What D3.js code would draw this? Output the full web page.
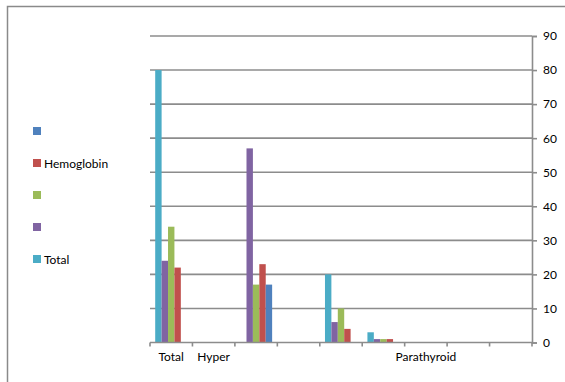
<!DOCTYPE html>
<html>
<head>
<meta charset="utf-8">
<script src="https://cdn.jsdelivr.net/npm/d3@7"></script>
<style>
  html, body { margin: 0; padding: 0; background: #fff; }
  svg { display: block; }
  text { font-family: Lato, "Open Sans", sans-serif; fill: #000; }
</style>
</head>
<body>
<svg id="chart" width="565" height="382"></svg>
<script>
// Category labels along the bottom axis (blank slots keep their place)
const categories = ["Total", "Hyper", "", "", "", "", "Parathyroid", "", ""];

// Series, in the order their bars sit inside each category group
const seriesNames = ["Total", "", "", "Hemoglobin", ""];
const seriesColors = ["#4BACC6", "#8064A2", "#9BBB59", "#C0504D", "#4F81BD"];
const totalValues      = [80, 0, 0, 0, 20, 3, 0, 0, 0];
const purpleValues     = [24, 0, 57, 0, 6, 1, 0, 0, 0];
const greenValues      = [34, 0, 17, 0, 10, 1, 0, 0, 0];
const hemoglobinValues = [22, 0, 23, 0, 4, 1, 0, 0, 0];
const blueValues       = [0, 0, 17, 0, 0, 0, 0, 0, 0];
const seriesValues = [totalValues, purpleValues, greenValues, hemoglobinValues, blueValues];

// Legend entries, top to bottom
const legendNames = ["", "Hemoglobin", "", "", "Total"];
const legendColors = ["#4F81BD", "#C0504D", "#9BBB59", "#8064A2", "#4BACC6"];

const yTicks = [0, 10, 20, 30, 40, 50, 60, 70, 80, 90];

const svg = d3.select("#chart");
const plot = { left: 150, right: 532, top: 36, bottom: 342.5 };

// Outer frame (top and left edges)
svg.append("path")
  .attr("d", "M7.5,382 V6.5 H565")
  .attr("fill", "none").attr("stroke", "#8a8a8a").attr("stroke-width", 1.5);

const x0 = d3.scaleBand().domain(d3.range(categories.length))
  .range([plot.left, plot.right]).paddingInner(0.245).paddingOuter(0.1225);
const x1 = d3.scaleBand().domain(d3.range(seriesValues.length))
  .range([0, x0.bandwidth()]);
const y = d3.scaleLinear().domain([0, 90]).range([plot.bottom, plot.top]);

const step = (plot.right - plot.left) / categories.length;

// Horizontal gridlines
svg.append("g").selectAll("line").data(yTicks.filter(d => d > 0)).join("line")
  .attr("x1", plot.left).attr("x2", plot.right)
  .attr("y1", d => y(d)).attr("y2", d => y(d))
  .attr("stroke", "#8c8c8c").attr("stroke-width", 1.6);

// Bars
const groups = svg.append("g").selectAll("g").data(categories.map((c, i) => i)).join("g")
  .attr("transform", i => `translate(${x0(i)},0)`);
groups.selectAll("rect")
  .data(i => seriesValues.map((vals, s) => ({ s, v: vals[i] })).filter(d => d.v > 0))
  .join("rect")
  .attr("x", d => x1(d.s)).attr("width", x1.bandwidth())
  .attr("y", d => y(d.v)).attr("height", d => plot.bottom - y(d.v))
  .attr("fill", d => seriesColors[d.s]);

// Right value axis
const yAxis = svg.append("g").attr("transform", `translate(${plot.right},0)`)
  .call(d3.axisRight(y).tickValues(yTicks).tickSize(5).tickPadding(6));
yAxis.select(".domain").attr("stroke", "#8c8c8c").attr("stroke-width", 1.6);
yAxis.selectAll(".tick line").attr("stroke", "#8c8c8c").attr("stroke-width", 1.6);
yAxis.selectAll("text").attr("font-size", 12).attr("font-family", "Lato, 'Open Sans', sans-serif");

// Bottom category axis: baseline, boundary ticks, labels
const bottom = svg.append("g");
bottom.append("line")
  .attr("x1", plot.left).attr("x2", plot.right)
  .attr("y1", plot.bottom).attr("y2", plot.bottom)
  .attr("stroke", "#8c8c8c").attr("stroke-width", 1.6);
bottom.selectAll("line.tick").data(d3.range(categories.length + 1)).join("line")
  .attr("class", "tick")
  .attr("x1", i => plot.left + i * step).attr("x2", i => plot.left + i * step)
  .attr("y1", plot.bottom).attr("y2", plot.bottom + 4)
  .attr("stroke", "#8c8c8c").attr("stroke-width", 1.6);
bottom.selectAll("text").data(categories).join("text")
  .attr("x", (c, i) => plot.left + (i + 0.5) * step)
  .attr("y", 361)
  .attr("text-anchor", "middle")
  .attr("font-size", 12)
  .text(c => c);

// Legend
const legend = svg.append("g").selectAll("g").data(legendNames).join("g")
  .attr("transform", (d, i) => `translate(33,${131 + i * 32})`);
legend.append("rect")
  .attr("x", 0).attr("y", -4).attr("width", 8).attr("height", 8)
  .attr("fill", (d, i) => legendColors[i]);
legend.append("text")
  .attr("x", 11).attr("y", 4.5)
  .attr("font-size", 12)
  .text(d => d);
</script>
</body>
</html>
